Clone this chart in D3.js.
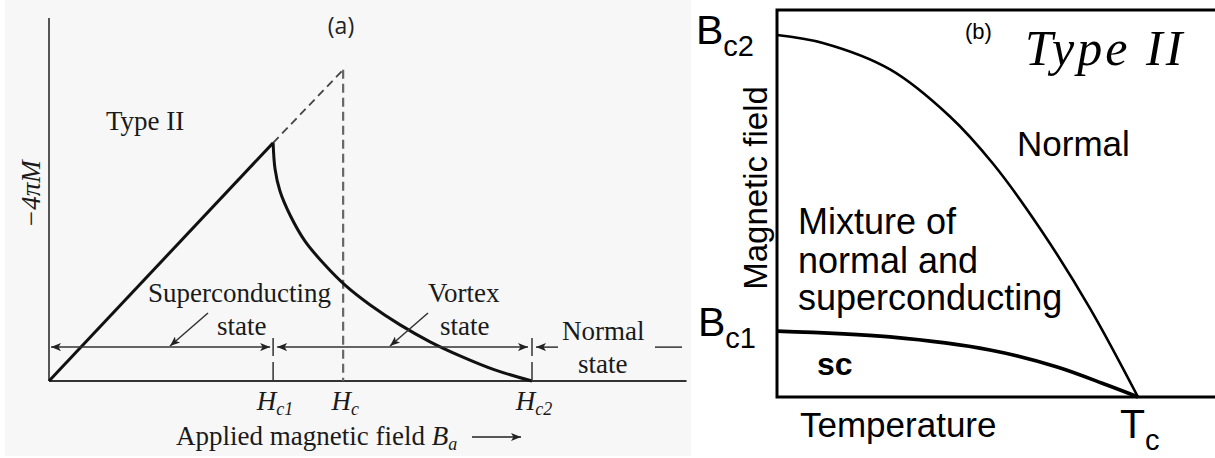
<!DOCTYPE html>
<html>
<head>
<meta charset="utf-8">
<script src="https://cdn.jsdelivr.net/npm/d3@7"></script>
<style>
  body { margin: 0; background: #fff; }
  svg { display: block; }
</style>
</head>
<body>
<svg id="chart" width="1215" height="458"></svg>
<script>
// (a) magnetisation curve of a type II superconductor
const fieldNames = ['c1', 'c', 'c2']
const fieldValues = [4.64, 6.09, 10]
const meissnerH = [0, 4.64]
const meissnerM = [0, 4.92]
const idealH = [4.64, 6.09]
const idealM = [4.92, 6.43]
const vortexH = [4.64, 4.68, 4.78, 4.99, 5.30, 5.71, 6.13, 6.65, 7.27, 7.89, 8.51, 9.23, 10]
const vortexM = [4.92, 4.38, 3.93, 3.43, 2.89, 2.40, 1.98, 1.57, 1.16, 0.81, 0.52, 0.23, 0]

// (b) phase diagram, reduced units (Tc = 1, Bc2(0) = 1)
const bc2T = [0, 0.127, 0.313, 0.479, 0.598, 0.729, 0.867, 1]
const bc2B = [1, 0.978, 0.905, 0.775, 0.645, 0.465, 0.245, 0]
const bc1T = [0, 0.313, 0.590, 0.776, 0.914, 1]
const bc1B = [0.182, 0.166, 0.130, 0.083, 0.033, 0]

const svg = d3.select('#chart')
const serif = '"Liberation Serif", "Times New Roman", serif'
const sans = '"Liberation Sans", Arial, sans-serif'

const defs = svg.append('defs')
defs.append('marker')
    .attr('id', 'head')
    .attr('viewBox', '0 0 10 8')
    .attr('refX', 10).attr('refY', 4)
    .attr('markerWidth', 12).attr('markerHeight', 8)
    .attr('markerUnits', 'userSpaceOnUse')
    .attr('orient', 'auto-start-reverse')
  .append('path')
    .attr('d', 'M0,0 L10,4 L0,8 L2.5,4 z')
    .attr('fill', '#222')

// ---------- panel (a) ----------
const a = svg.append('g')
a.append('rect')
  .attr('x', 5).attr('y', 0)
  .attr('width', 686).attr('height', 456)
  .attr('fill', '#f7f7f7')

const xA = d3.scaleLinear().domain([0, 10]).range([49, 532])
const yA = d3.scaleLinear().domain([0, 7.5]).range([381, 18])
const lineA = d3.line().x(d => xA(d[0])).y(d => yA(d[1]))

// axes
a.append('line')
  .attr('x1', xA(0)).attr('x2', xA(13.2))
  .attr('y1', yA(0)).attr('y2', yA(0))
  .attr('stroke', '#333').attr('stroke-width', 2)
a.append('line')
  .attr('x1', xA(0)).attr('x2', xA(0))
  .attr('y1', yA(0)).attr('y2', yA(7.5))
  .attr('stroke', '#555').attr('stroke-width', 2)

// Hc dashed lines
a.append('path')
  .attr('d', lineA(d3.zip(idealH, idealM)))
  .attr('fill', 'none').attr('stroke', '#444')
  .attr('stroke-width', 1.8).attr('stroke-dasharray', '8,5')
a.append('line')
  .attr('x1', xA(fieldValues[1])).attr('x2', xA(fieldValues[1]))
  .attr('y1', yA(idealM[1])).attr('y2', yA(0))
  .attr('stroke', '#666').attr('stroke-width', 2.2)
  .attr('stroke-dasharray', '9,5')

// meissner line and vortex curve
a.append('path')
  .attr('d', lineA(d3.zip(meissnerH, meissnerM)))
  .attr('fill', 'none').attr('stroke', '#111').attr('stroke-width', 3)
a.append('path')
  .attr('d', d3.line().x(d => xA(d[0])).y(d => yA(d[1]))
    .curve(d3.curveCatmullRom.alpha(0.5))(d3.zip(vortexH, vortexM)))
  .attr('fill', 'none').attr('stroke', '#111').attr('stroke-width', 3)

// state arrows
const arrowM = 0.7
const yArr = yA(arrowM)
;[fieldValues[0], fieldValues[2]].forEach(v => {
  a.append('line')
    .attr('x1', xA(v)).attr('x2', xA(v))
    .attr('y1', yArr - 9).attr('y2', yArr + 9)
    .attr('stroke', '#333').attr('stroke-width', 1.5)
  a.append('line')
    .attr('x1', xA(v)).attr('x2', xA(v))
    .attr('y1', yArr + 15).attr('y2', yA(0))
    .attr('stroke', '#333').attr('stroke-width', 1.5)
})
const spans = [
  [xA(0) + 2, xA(fieldValues[0]) - 3],
  [xA(fieldValues[0]) + 4, xA(fieldValues[2]) - 4],
]
spans.forEach(s => {
  a.append('line')
    .attr('x1', s[0]).attr('x2', s[1])
    .attr('y1', yArr).attr('y2', yArr)
    .attr('stroke', '#333').attr('stroke-width', 1.5)
    .attr('marker-start', 'url(#head)')
    .attr('marker-end', 'url(#head)')
})
a.append('line')
  .attr('x1', xA(fieldValues[2]) + 4).attr('x2', xA(fieldValues[2]) + 26)
  .attr('y1', yArr).attr('y2', yArr)
  .attr('stroke', '#333').attr('stroke-width', 1.5)
  .attr('marker-start', 'url(#head)')
a.append('line')
  .attr('x1', 655).attr('x2', 682)
  .attr('y1', yArr).attr('y2', yArr)
  .attr('stroke', '#333').attr('stroke-width', 1.5)

// pointers
;[[208, 313, 170, 346], [428, 313, 390, 346]].forEach(p => {
  a.append('line')
    .attr('x1', p[0]).attr('y1', p[1])
    .attr('x2', p[2]).attr('y2', p[3])
    .attr('stroke', '#333').attr('stroke-width', 1.5)
    .attr('marker-end', 'url(#head)')
})

const txtA = (x, y, s) => a.append('text')
  .attr('x', x).attr('y', y)
  .attr('font-family', serif).attr('font-size', 27)
  .attr('fill', '#1a1a1a').text(s)

txtA(106, 130, 'Type II')
txtA(148, 302, 'Superconducting')
txtA(217, 335, 'state')
txtA(428, 302, 'Vortex')
txtA(440, 335, 'state')
txtA(562, 340, 'Normal')
txtA(578, 373, 'state')

a.append('text')
  .attr('x', 341).attr('y', 34)
  .attr('text-anchor', 'middle')
  .attr('font-family', '"Open Sans", sans-serif').attr('font-size', 23)
  .attr('fill', '#222').text('(a)')

// field tick labels
fieldNames.forEach((n, i) => {
  const t = a.append('text')
    .attr('x', xA(fieldValues[i]) + 2).attr('y', 410)
    .attr('text-anchor', 'middle')
    .attr('font-family', serif).attr('font-size', 27)
    .attr('font-style', 'italic').attr('fill', '#1a1a1a')
  t.append('tspan').text('H')
  t.append('tspan').attr('font-size', 18).attr('dy', 5).text(n)
})

const xl = a.append('text')
  .attr('x', 176).attr('y', 445)
  .attr('font-family', serif).attr('font-size', 27).attr('fill', '#1a1a1a')
xl.append('tspan').text('Applied magnetic field ')
xl.append('tspan').attr('font-style', 'italic').text('B')
xl.append('tspan').attr('font-style', 'italic').attr('font-size', 18).attr('dy', 5).text('a')
a.append('line')
  .attr('x1', 472).attr('x2', 521)
  .attr('y1', 437).attr('y2', 437)
  .attr('stroke', '#222').attr('stroke-width', 1.6)
  .attr('marker-end', 'url(#head)')

a.append('text')
  .attr('transform', 'translate(40,194) rotate(-90)')
  .attr('text-anchor', 'middle')
  .attr('font-family', serif).attr('font-size', 27)
  .attr('font-style', 'italic').attr('fill', '#1a1a1a')
  .text('\u22124\u03c0M')

// ---------- panel (b) ----------
const b = svg.append('g')
const xB = d3.scaleLinear().domain([0, 1]).range([777, 1138])
const yB = d3.scaleLinear().domain([0, 1]).range([397, 35])
const lineB = d3.line().x(d => xB(d[0])).y(d => yB(d[1])).curve(d3.curveCatmullRom.alpha(0.5))

b.append('path')
  .attr('d', `M${xB(1.22)},${yB(1.069)} H${xB(0)} V${yB(0)} H${xB(1.22)}`)
  .attr('fill', 'none').attr('stroke', '#000').attr('stroke-width', 3)

b.append('path')
  .attr('d', lineB(d3.zip(bc2T, bc2B)))
  .attr('fill', 'none').attr('stroke', '#000').attr('stroke-width', 2.6)
b.append('path')
  .attr('d', lineB(d3.zip(bc1T, bc1B)))
  .attr('fill', 'none').attr('stroke', '#000').attr('stroke-width', 3.6)

const txtB = (x, y, s, size) => b.append('text')
  .attr('x', x).attr('y', y)
  .attr('font-family', sans).attr('font-size', size)
  .attr('fill', '#000').text(s)

const sub = (x, y, main, s) => {
  const t = b.append('text')
    .attr('x', x).attr('y', y)
    .attr('font-family', sans).attr('font-size', 41).attr('fill', '#000')
  t.append('tspan').text(main)
  t.append('tspan').attr('font-size', 29).attr('dy', 12).text(s)
}
sub(696, 44, 'B', 'c2')
sub(698, 336, 'B', 'c1')
sub(1120, 438, 'T', 'c')

txtB(965, 39, '(b)', 22)
txtB(1017, 156, 'Normal', 35)
txtB(798, 234, 'Mixture of', 36)
txtB(798, 273, 'normal and', 36)
txtB(798, 310, 'superconducting', 36)
txtB(800, 437, 'Temperature', 35)
txtB(817, 375, 'sc', 32).attr('font-weight', 'bold')

b.append('text')
  .attr('x', 1025).attr('y', 65)
  .attr('font-family', serif).attr('font-size', 50)
  .attr('font-style', 'italic').attr('letter-spacing', 3)
  .text('Type II')

b.append('text')
  .attr('transform', 'translate(767,188) rotate(-90)')
  .attr('text-anchor', 'middle')
  .attr('font-family', sans).attr('font-size', 33)
  .text('Magnetic field')
</script>
</body>
</html>
